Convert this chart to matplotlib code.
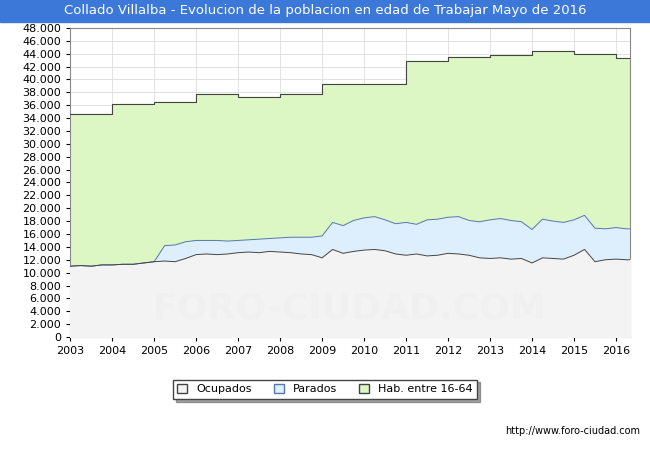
import matplotlib
matplotlib.use("Agg")
import matplotlib.pyplot as plt
from matplotlib.patches import Patch
import numpy as np

# Quarterly samples, 2003.0 .. 2016.25
years = np.arange(2003, 2016.5, 0.25)

ocupados = [11000, 11100, 11000, 11200,
            11200, 11300, 11300, 11500,
            11700, 11800, 11700, 12200,
            12800, 12900, 12800, 12900,
            13100, 13200, 13100, 13300,
            13200, 13100, 12900, 12800,
            12300, 13600, 13000, 13300,
            13500, 13600, 13400, 12900,
            12700, 12900, 12600, 12700,
            13000, 12900, 12700, 12300,
            12200, 12300, 12100, 12200,
            11500, 12300, 12200, 12100,
            12700, 13600, 11700, 12000,
            12100, 12000]

# ocupados + parados (no parados data before 2005.25)
activos = [11000, 11100, 11000, 11200,
           11200, 11300, 11300, 11500,
           11700, 14200, 14300, 14800,
           15000, 15000, 15000, 14900,
           15000, 15100, 15200, 15300,
           15400, 15500, 15500, 15500,
           15700, 17800, 17300, 18100,
           18500, 18700, 18200, 17600,
           17800, 17500, 18200, 18300,
           18600, 18700, 18100, 17900,
           18200, 18400, 18100, 17900,
           16700, 18300, 18000, 17800,
           18200, 18900, 16900, 16800,
           17000, 16800]

hab_years = [2003, 2004, 2005, 2006, 2007, 2008, 2009, 2010, 2011, 2012, 2013, 2014, 2015, 2016, 2016.33]
hab = [34700, 36200, 36500, 37700, 37200, 37700, 39300, 39300, 42800, 43500, 43800, 44400, 44000, 43400, 43400]

x_end = 2016.33
yrs = np.append(years, x_end)
ocu = np.append(ocupados, ocupados[-1])
act = np.append(activos, activos[-1])

fig = plt.figure(figsize=(6.5, 4.5), dpi=100)
fig.patch.set_facecolor("white")
ax = fig.add_axes([0.108, 0.251, 0.861, 0.687])
ax.set_facecolor("white")

ax.fill_between(hab_years, hab, step="post", color="#ddf7c4", zorder=1)
ax.step(hab_years, hab, where="post", color="#444444", lw=0.8, zorder=4)
ax.fill_between(yrs, act, color="#ddeefc", zorder=2)
ax.plot(yrs, act, color="#5577aa", lw=0.7, zorder=4)
ax.fill_between(yrs, ocu, color="#f3f3f3", zorder=3)
ax.plot(yrs, ocu, color="#444444", lw=0.7, zorder=4)

ax.set_xlim(2003, x_end)
ax.set_ylim(0, 48000)
ax.set_yticks(range(0, 48001, 2000))
ax.set_yticklabels([f"{v:,}".replace(",", ".") for v in range(0, 48001, 2000)])
ax.set_xticks(range(2003, 2017))
ax.grid(True, color="#dddddd", lw=0.6, zorder=0)
ax.set_axisbelow(True)
ax.tick_params(labelsize=8, length=3)
for s in ax.spines.values():
    s.set_color("#888888")

ax.text(0.5, 0.06, "FORO-CIUDAD.COM", transform=ax.transAxes, ha="center",
        fontsize=26, color="#f0f0f0", fontweight="bold", zorder=5)

# title bar
fig.patches.append(plt.Rectangle((0, 0.952), 1, 0.048, transform=fig.transFigure,
                                 color="#3b78d8", zorder=0))
fig.text(0.5, 0.976, "Collado Villalba - Evolucion de la poblacion en edad de Trabajar Mayo de 2016",
         ha="center", va="center", color="white", fontsize=9.5)

handles = [Patch(facecolor="#f3f3f3", edgecolor="#444444", label="Ocupados"),
           Patch(facecolor="#ddeefc", edgecolor="#5577aa", label="Parados"),
           Patch(facecolor="#ddf7c4", edgecolor="#444444", label="Hab. entre 16-64")]
fig.legend(handles=handles, loc="center", bbox_to_anchor=(0.5, 0.135), ncol=3,
           fontsize=8, frameon=True, fancybox=False, shadow=True,
           edgecolor="#444444", handlelength=0.9, handleheight=0.9, columnspacing=2)

fig.text(0.985, 0.035, "http://www.foro-ciudad.com", ha="right", fontsize=7)

fig.savefig("out.png", dpi=100)
